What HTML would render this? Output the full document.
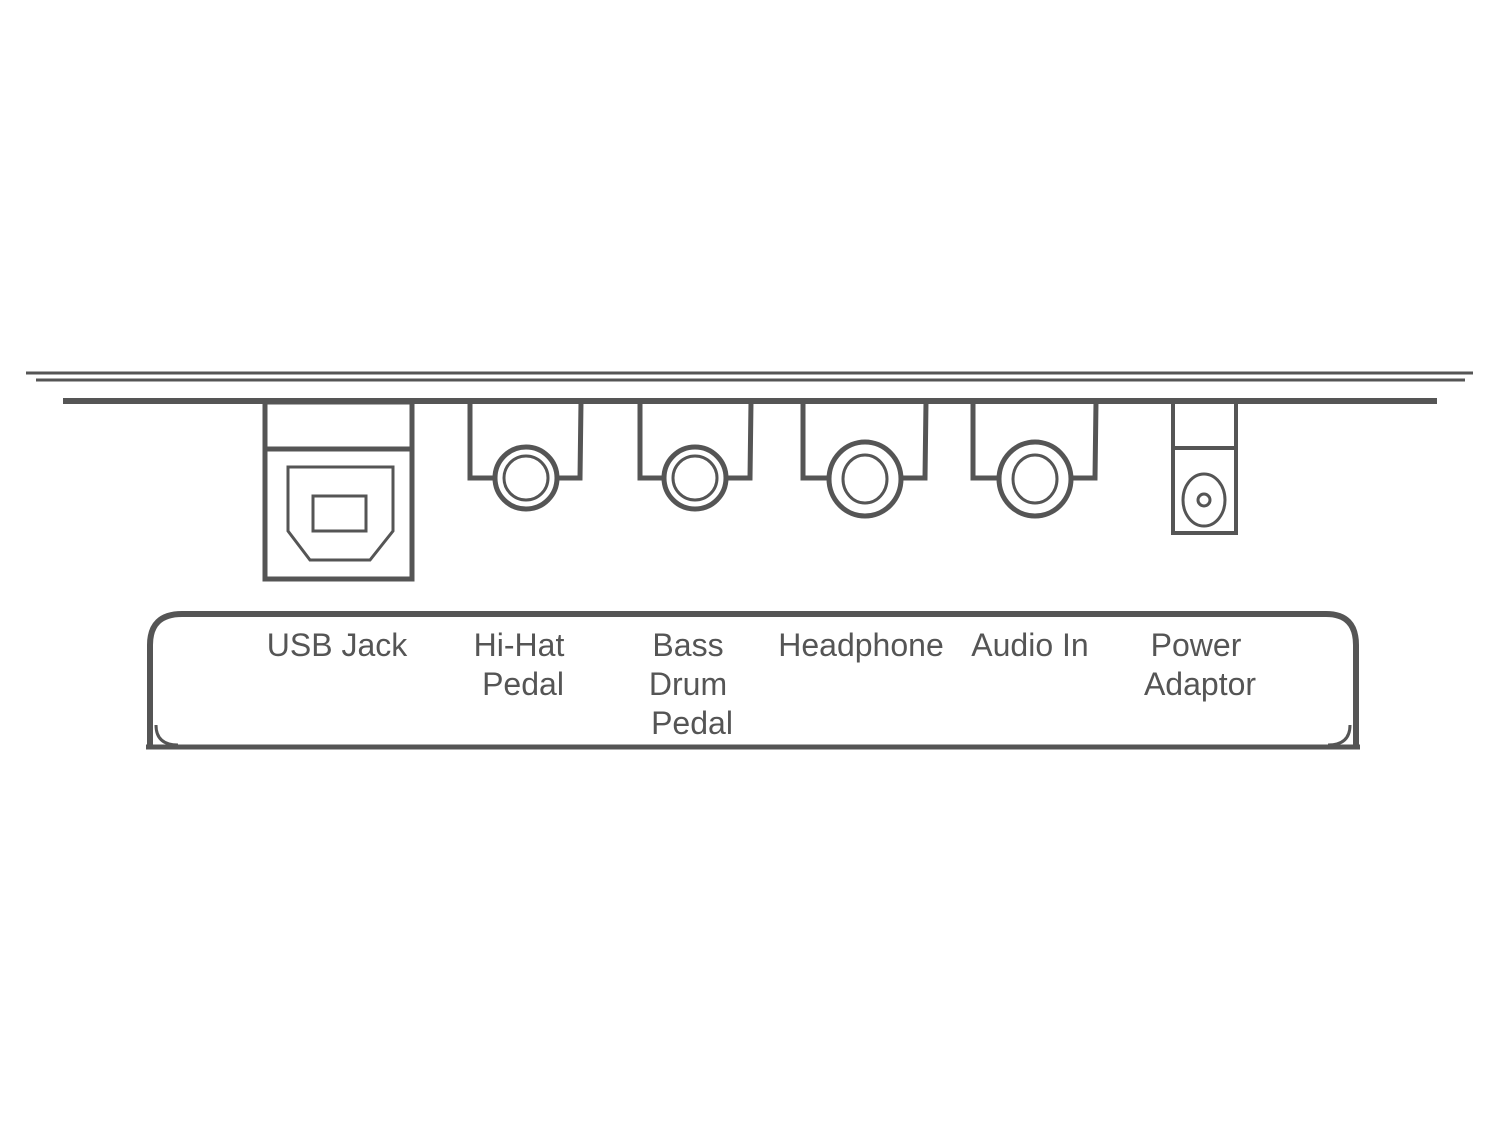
<!DOCTYPE html>
<html><head><meta charset="utf-8"><style>
html,body{margin:0;padding:0;background:#fff;}
svg{display:block;}
text{font-family:"Liberation Sans",Arial,sans-serif;font-size:32px;fill:#555;}
</style></head><body>
<svg width="1500" height="1125" viewBox="0 0 1500 1125" xmlns="http://www.w3.org/2000/svg">
<g stroke="#555" fill="none" stroke-linecap="butt">
  <line x1="26" y1="373" x2="1473" y2="373" stroke-width="3"/>
  <line x1="36" y1="380" x2="1465" y2="380" stroke-width="3"/>
  <line x1="63" y1="401" x2="1437" y2="401" stroke-width="6"/>
  <!-- USB -->
  <rect x="265" y="402" width="147" height="177" stroke-width="5"/>
  <line x1="265" y1="449" x2="412" y2="449" stroke-width="5"/>
  <polygon points="288,467 393,467 393,531 370,560 310,560 288,531" stroke-width="3"/>
  <rect x="313" y="496" width="53" height="35" stroke-width="3"/>
  <!-- Hi-hat -->
  <polyline points="470,402 470,478 493,478" stroke-width="5"/>
  <polyline points="581,402 580,478 559,478" stroke-width="5"/>
  <circle cx="526" cy="478" r="31" stroke-width="5"/>
  <circle cx="526" cy="478" r="22" stroke-width="3"/>
  <!-- Bass -->
  <polyline points="640,402 640,478 662,478" stroke-width="5"/>
  <polyline points="751,402 750,478 728,478" stroke-width="5"/>
  <circle cx="695" cy="478" r="31" stroke-width="5"/>
  <circle cx="695" cy="478" r="22" stroke-width="3"/>
  <!-- Headphone -->
  <polyline points="803,402 803,478 828,478" stroke-width="5"/>
  <polyline points="926,402 925,478 902,478" stroke-width="5"/>
  <ellipse cx="865" cy="479" rx="36" ry="37" stroke-width="5"/>
  <ellipse cx="865" cy="479" rx="22" ry="24" stroke-width="3"/>
  <!-- Audio In -->
  <polyline points="973,402 973,478 998,478" stroke-width="5"/>
  <polyline points="1096,402 1095,478 1072,478" stroke-width="5"/>
  <ellipse cx="1035" cy="479" rx="36" ry="37" stroke-width="5"/>
  <ellipse cx="1035" cy="479" rx="22" ry="24" stroke-width="3"/>
  <!-- Power -->
  <rect x="1173" y="402" width="63" height="131" stroke-width="4"/>
  <line x1="1173" y1="448" x2="1236" y2="448" stroke-width="4"/>
  <ellipse cx="1204" cy="500" rx="21" ry="26" stroke-width="3"/>
  <circle cx="1204" cy="500" r="6" stroke-width="3"/>
  <!-- Panel -->
  <path d="M150,747 L150,645 Q150,614 182,614 L1326,614 Q1356,614 1356,645 L1356,747" stroke-width="6"/>
  <line x1="146" y1="747" x2="1360" y2="747" stroke-width="5"/>
  <path d="M156,725 Q156,745 178,745" stroke-width="3"/>
  <path d="M1350,725 Q1350,745 1328,745" stroke-width="3"/>
</g>
<text x="337" y="656" text-anchor="middle">USB Jack</text>
<text x="519" y="656" text-anchor="middle">Hi-Hat</text>
<text x="523" y="695" text-anchor="middle">Pedal</text>
<text x="688" y="656" text-anchor="middle">Bass</text>
<text x="688" y="695" text-anchor="middle">Drum</text>
<text x="692" y="734" text-anchor="middle">Pedal</text>
<text x="861" y="656" text-anchor="middle">Headphone</text>
<text x="1030" y="656" text-anchor="middle">Audio In</text>
<text x="1196" y="656" text-anchor="middle">Power</text>
<text x="1200" y="695" text-anchor="middle">Adaptor</text>
</svg>
</body></html>
